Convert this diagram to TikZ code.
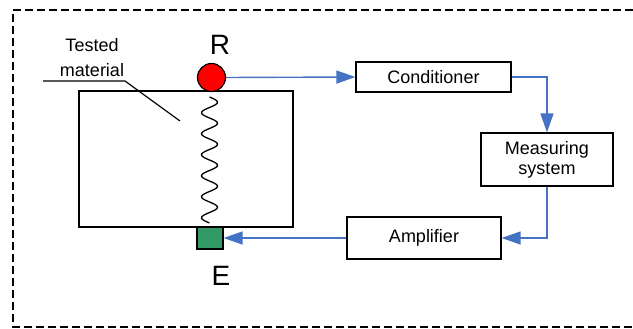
\documentclass[tikz,border=0pt]{standalone}
\usepackage{fontspec}
\setmainfont{Liberation Sans}
\usetikzlibrary{arrows.meta}
\definecolor{linkblue}{HTML}{4472C4}
\definecolor{egreen}{HTML}{339966}
\tikzset{
  blk/.style={draw=black, line width=1.2pt, fill=white, inner sep=0pt, font=\fontsize{18}{20}\selectfont, align=center},
  link/.style={draw=linkblue, line width=1.4pt, -{Triangle[length=19pt, width=13pt]}},
  lbl/.style={font=\fontsize{28}{30}\selectfont, inner sep=0pt},
}
\begin{document}
\begin{tikzpicture}[x=1pt, y=-1pt]
\useasboundingbox (0,0) rectangle (633,329);
% dashed frame (no right side)
\draw[line width=2.8pt, dash pattern=on 8pt off 4pt] (633,10) -- (13,10) -- (13,327) -- (633,327);
% tested material block
\node[draw=black, line width=1.2pt, minimum width=214pt, minimum height=136pt, inner sep=0pt] (mat) at (186,159) {};
% spring
\draw[line width=1.3pt] plot[smooth, domain=0:6, samples=121] ({209.5+8*sin(360*\x)}, {97+21*\x});
% R electrode
\node[circle, draw=black, line width=1.2pt, fill=red, minimum size=28pt, inner sep=0pt] (R) at (211.5,77.5) {};
\node[lbl] (Rl) at (220,45) {R};
% E electrode
\node[draw=black, line width=1.2pt, fill=egreen, minimum width=26pt, minimum height=22pt, inner sep=0pt] (E) at (210,238) {};
\node[lbl] (El) at (221,276) {E};
% tested material label
\node[font=\fontsize{18}{25}\selectfont, align=center, inner sep=0pt] (tm) at (92,58) {Tested\\material};
\coordinate (l1) at (43,81);
\coordinate (l2) at (125,81);
\coordinate (l3) at (180,121);
\draw[line width=1.2pt] (l1) -- (l2) -- (l3);
% blocks
\node[blk, minimum width=155pt, minimum height=30pt] (cond) at (433.5,77) {Conditioner};
\node[blk, minimum width=132pt, minimum height=53pt] (meas) at (547,159.5) {Measuring\\system};
\node[blk, minimum width=154pt, minimum height=42pt] (amp) at (424,238) {Amplifier};
% connectors
\draw[link] (R.east) -- (cond.west);
\draw[link] (cond.east) -| (meas.north);
\draw[link] (meas.south) |- (amp.east);
\draw[link] (amp.west) -- (E.east);
\end{tikzpicture}
\end{document}
